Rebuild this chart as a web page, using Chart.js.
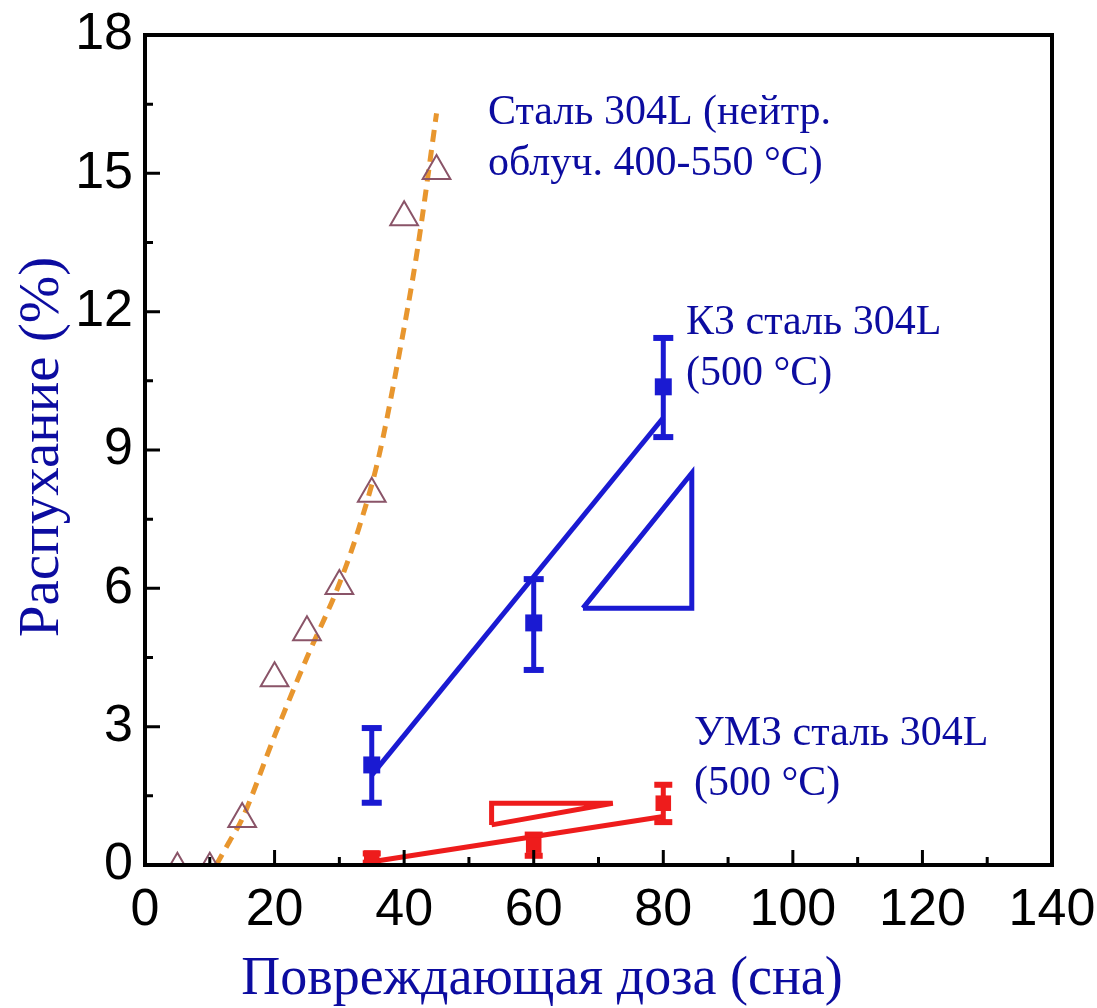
<!DOCTYPE html>
<html>
<head>
<meta charset="utf-8">
<script src="https://cdn.jsdelivr.net/npm/chart.js@4.4.0/dist/chart.umd.min.js"></script>
<style>
  html, body { margin: 0; padding: 0; background: #fff; }
  #wrap { width: 1097px; height: 1008px; }
</style>
</head>
<body>
<div id="wrap"><canvas id="chartSwelling"></canvas></div>
<script>
// --- data ---
// neutron-irradiated 304L (open triangles) + dashed fit
const neutronDose = [5, 10, 15, 20, 25, 30, 35, 40, 45];
const neutronSwelling = [0.05, 0.05, 1.0, 4.05, 5.05, 6.05, 8.05, 14.05, 15.05];
const neutronFitDose = [11, 13, 15, 20, 25, 30, 33, 36, 39, 42, 45];
const neutronFitSwelling = [0, 0.5, 1.0, 2.8, 4.5, 6.1, 7.3, 8.8, 10.9, 13.3, 16.3];

// КЗ (coarse grain) 304L, 500 °C
const cgDose = [35, 60, 80];
const cgSwelling = [2.17, 5.25, 10.37];
const cgLow = [1.35, 4.23, 9.28];
const cgHigh = [2.97, 6.2, 11.43];
const cgFitDose = [35, 80];
const cgFitSwelling = [1.95, 9.7];
const cgSlopeDose = [67.6, 84.4, 84.4, 67.6];
const cgSlopeSwelling = [5.57, 5.57, 8.5, 5.57];

// УМЗ (ultrafine grain) 304L, 500 °C
const ufgDose = [35, 60, 80];
const ufgSwelling = [0.15, 0.43, 1.34];
const ufgLow = [0.05, 0.2, 0.93];
const ufgHigh = [0.25, 0.66, 1.74];
const ufgFitDose = [35, 80];
const ufgFitSwelling = [0.07, 1.05];
const ufgSlopeDose = [53.5, 72.2, 53.5, 53.5];
const ufgSlopeSwelling = [0.87, 1.34, 1.34, 0.87];

const xTicks = [0, 20, 40, 60, 80, 100, 120, 140];
const yTicks = [0, 3, 6, 9, 12, 15, 18];

const BLUE = '#1a1ad2';
const RED = '#ee1c1c';
const TEXT_BLUE = '#0c0ca0';

function pts(xs, ys) {
  return xs.map((x, i) => ({x: x, y: ys[i]}));
}
// error bars: one segment per point, separated by gaps
function errorBars(xs, lo, hi) {
  const out = [];
  xs.forEach((x, i) => {
    out.push({x: x, y: lo[i]}, {x: x, y: hi[i]}, {x: x, y: null});
  });
  return out;
}

// frame, inward ticks, axis titles and notes
const decorations = {
  id: 'decorations',
  afterDraw(chart) {
    const ctx = chart.ctx;
    const a = chart.chartArea;
    const xs = chart.scales.x, ys = chart.scales.y;
    ctx.save();
    ctx.strokeStyle = '#000';
    ctx.lineWidth = 4;
    ctx.strokeRect(a.left, a.top, a.right - a.left, a.bottom - a.top);

    ctx.lineWidth = 3;
    ctx.beginPath();
    xTicks.forEach((v, i) => {
      const px = xs.getPixelForValue(v);
      ctx.moveTo(px, a.bottom); ctx.lineTo(px, a.bottom - 15);
      if (i < xTicks.length - 1) {
        const m = xs.getPixelForValue((v + xTicks[i + 1]) / 2);
        ctx.moveTo(m, a.bottom); ctx.lineTo(m, a.bottom - 8);
      }
    });
    yTicks.forEach((v, i) => {
      const py = ys.getPixelForValue(v);
      ctx.moveTo(a.left, py); ctx.lineTo(a.left + 15, py);
      if (i < yTicks.length - 1) {
        const m = ys.getPixelForValue((v + yTicks[i + 1]) / 2);
        ctx.moveTo(a.left, m); ctx.lineTo(a.left + 8, m);
      }
    });
    ctx.stroke();

    ctx.fillStyle = TEXT_BLUE;
    ctx.font = '54px "Liberation Serif", "Times New Roman", serif';
    ctx.textAlign = 'center';
    ctx.textBaseline = 'alphabetic';
    ctx.fillText('Повреждающая доза (сна)', 542, 994);

    ctx.save();
    ctx.font = '57px "Liberation Serif", "Times New Roman", serif';
    ctx.translate(58, 447);
    ctx.rotate(-Math.PI / 2);
    ctx.fillText('Распухание (%)', 0, 0);
    ctx.restore();

    ctx.font = '42px "Liberation Serif", "Times New Roman", serif';
    ctx.textAlign = 'left';
    ctx.fillText('Сталь 304L (нейтр.', 488, 124);
    ctx.fillText('облуч. 400-550 °C)', 488, 175);
    ctx.fillText('КЗ сталь 304L', 686, 334);
    ctx.fillText('(500 °C)', 686, 385);
    ctx.fillText('УМЗ сталь 304L', 694, 745);
    ctx.fillText('(500 °C)', 694, 795);
    ctx.restore();
  }
};

const ctx = document.getElementById('chartSwelling').getContext('2d');
const chart = new Chart(ctx, {
  type: 'scatter',
  data: {
    datasets: [
      {
        label: 'Сталь 304L (нейтр. облуч. 400-550 °C)',
        data: pts(neutronDose, neutronSwelling),
        pointStyle: 'triangle',
        pointRadius: [10, 10, 16, 16, 16, 16, 16, 16, 16],
        pointBorderWidth: 2,
        pointBorderColor: '#8a5468',
        pointBackgroundColor: 'rgba(0,0,0,0)',
        order: 1
      },
      {
        label: 'fit neutron',
        data: pts(neutronFitDose, neutronFitSwelling),
        showLine: true,
        borderColor: '#e8962e',
        borderWidth: 5,
        borderDash: [12, 8],
        cubicInterpolationMode: 'monotone',
        pointRadius: 0,
        order: 2
      },
      {
        label: 'КЗ сталь 304L (500 °C)',
        data: pts(cgDose, cgSwelling),
        pointStyle: 'rect',
        pointRadius: 12,
        pointBorderWidth: 0,
        pointBackgroundColor: BLUE,
        order: 3
      },
      {
        label: 'КЗ errors',
        data: errorBars(cgDose, cgLow, cgHigh),
        showLine: true,
        spanGaps: false,
        borderColor: BLUE,
        borderWidth: 5,
        pointStyle: 'line',
        pointRadius: 10,
        pointBorderWidth: 6,
        pointBorderColor: BLUE,
        order: 4
      },
      {
        label: 'КЗ fit',
        data: pts(cgFitDose, cgFitSwelling),
        showLine: true,
        borderColor: BLUE,
        borderWidth: 5,
        pointRadius: 0,
        order: 5
      },
      {
        label: 'КЗ slope',
        data: pts(cgSlopeDose, cgSlopeSwelling),
        showLine: true,
        borderColor: BLUE,
        borderWidth: 5,
        pointRadius: 0,
        order: 6
      },
      {
        label: 'УМЗ сталь 304L (500 °C)',
        data: pts(ufgDose, ufgSwelling),
        pointStyle: 'rect',
        pointRadius: 11,
        pointBorderWidth: 0,
        pointBackgroundColor: RED,
        order: 7
      },
      {
        label: 'УМЗ errors',
        data: errorBars(ufgDose, ufgLow, ufgHigh),
        showLine: true,
        spanGaps: false,
        borderColor: RED,
        borderWidth: 5,
        pointStyle: 'line',
        pointRadius: 9,
        pointBorderWidth: 6,
        pointBorderColor: RED,
        order: 8
      },
      {
        label: 'УМЗ fit',
        data: pts(ufgFitDose, ufgFitSwelling),
        showLine: true,
        borderColor: RED,
        borderWidth: 5,
        pointRadius: 0,
        order: 9
      },
      {
        label: 'УМЗ slope',
        data: pts(ufgSlopeDose, ufgSlopeSwelling),
        showLine: true,
        borderColor: RED,
        borderWidth: 5,
        pointRadius: 0,
        order: 10
      }
    ]
  },
  options: {
    responsive: true,
    maintainAspectRatio: false,
    animation: false,
    layout: { padding: { left: 0, right: 45, top: 35, bottom: 0 } },
    plugins: {
      legend: { display: false },
      tooltip: { enabled: false }
    },
    scales: {
      x: {
        type: 'linear',
        min: 0,
        max: 140,
        afterBuildTicks: (scale) => { scale.ticks = xTicks.map(v => ({value: v})); },
        afterFit: (scale) => {
          scale.height = 143;
          scale.paddingLeft = 0;
          scale.paddingRight = 0;
        },
        grid: { display: false, drawTicks: false },
        border: { display: false },
        ticks: {
          color: '#000',
          padding: 14,
          font: { family: '"Liberation Sans", Arial, sans-serif', size: 52 }
        }
      },
      y: {
        type: 'linear',
        min: 0,
        max: 18,
        afterBuildTicks: (scale) => { scale.ticks = yTicks.map(v => ({value: v})); },
        afterFit: (scale) => {
          scale.width = 145;
          scale.paddingTop = 0;
          scale.paddingBottom = 0;
        },
        grid: { display: false, drawTicks: false },
        border: { display: false },
        ticks: {
          color: '#000',
          padding: 12,
          font: { family: '"Liberation Sans", Arial, sans-serif', size: 52 }
        }
      }
    }
  },
  plugins: [decorations]
});
</script>
</body>
</html>
